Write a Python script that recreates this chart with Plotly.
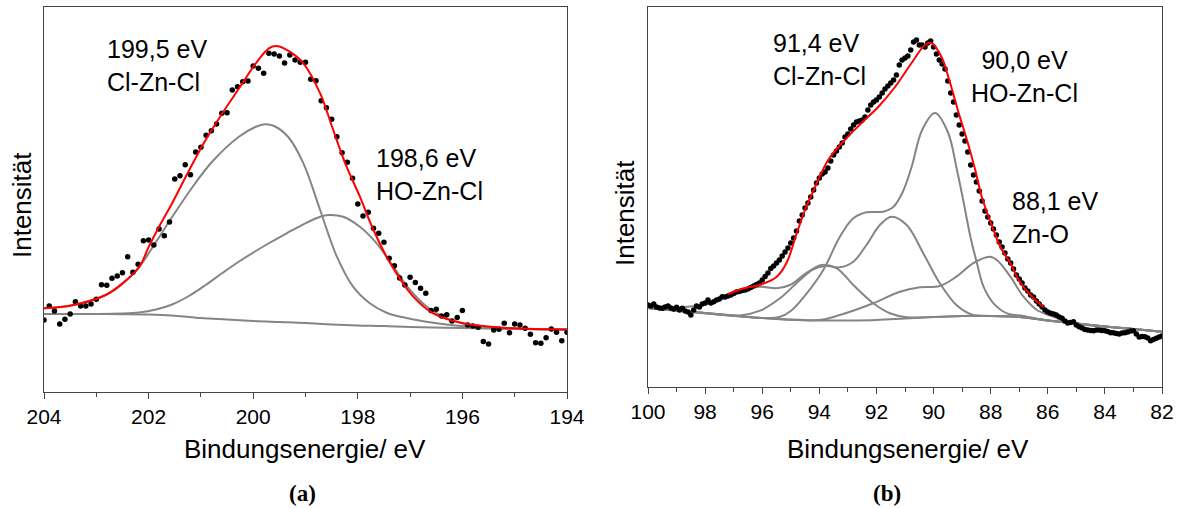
import plotly.graph_objects as go

# ---------------- Panel (a): Cl 2p ----------------
a_dot_E = [round(204.0 - 0.1 * i, 1) for i in range(101)]
a_dot_I = [72, 86, 81, 68, 72.7, 78, 90.3, 86, 86, 88,
           92.7, 107.3, 106.7, 113.7, 116, 119.3, 135.3, 119.7, 127.7, 151.3,
           152, 147, 163, 156.3, 170, 213, 216.3, 227.3, 217.3, 240,
           244.7, 256.7, 261.3, 268, 278.7, 279.3, 302, 305.3, 310.3, 311,
           326, 323.7, 318.7, 338.7, 338, 336, 329, 337, 332, 329.7,
           329.7, 312.7, 311.3, 291.3, 284.3, 272.7, 255.3, 239.3, 229.7, 213.7,
           188, 176, 179.7, 163.7, 158.7, 149.7, 133.7, 126.3, 114, 107,
           114.7, 109.5, 103.7, 98.8, 81.5, 82.8, 76, 77.3, 71, 74.5,
           81.5, 67, 66, 64.7, 50.5, 48, 62, 62.7, 68.7, 59.3,
           68, 67, 63.7, 57.7, 49.3, 48.7, 54.3, 63, 59.7, 51.3,
           59.7]

a_env_E = [204.0, 203.46, 202.82, 202.5, 202.18, 201.99, 201.8, 201.55, 201.29, 200.91,
           200.59, 200.27, 199.95, 199.7, 199.55, 199.3, 199.04, 198.72, 198.47, 198.24,
           197.96, 197.7, 197.38, 196.94, 196.56, 195.98, 195.24, 194.0]
a_env_I = [83.7, 86.7, 97, 108.7, 125, 146, 165.3, 188.7, 215.3, 252,
           278.7, 303.7, 328.7, 343.7, 346, 340.3, 328.7, 298.7, 262, 228.7,
           195.3, 162, 128.7, 95.3, 78.7, 68.7, 64.3, 62.5]

a_c1_E = [204.0, 203.46, 202.82, 202.5, 202.18, 201.86, 201.55, 201.16, 200.79, 200.28,
          199.96, 199.77, 199.6, 199.33, 199.04, 198.72, 198.4, 198.09, 197.77, 197.45,
          197.13, 196.49, 195.85, 195.0, 194.0]
a_c1_I = [83.7, 86.7, 97, 108, 125, 150, 175, 205, 230, 255,
          265, 267.7, 266, 255, 228.7, 182, 135.3, 105.3, 88.7, 79.3,
          74.7, 68.7, 65.3, 63.5, 62.5]

a_c2_E = [204.0, 202.5, 202.18, 201.86, 201.55, 201.23, 200.91, 200.59, 200.27, 199.95,
          199.66, 199.36, 199.04, 198.72, 198.56, 198.28, 197.96, 197.64, 197.32, 197.0,
          196.68, 196.3, 195.85, 195.0, 194.0]
a_c2_I = [78, 78.5, 79.5, 82.5, 87.5, 96, 107, 119, 130.5, 141,
          150, 158.7, 167.7, 175.3, 177, 175.3, 165.3, 148.7, 125.3, 102,
          85.3, 73.7, 67, 63.5, 62.5]

a_bg_E = [204.0, 203.0, 202.0, 201.5, 201.0, 200.5, 200.0, 199.5, 199.0, 198.5,
          198.0, 197.5, 197.0, 196.0, 195.0, 194.0]
a_bg_I = [78, 78, 77.5, 76.3, 74, 72.5, 71, 70, 69, 67.5,
          66.5, 66, 65, 64, 63, 62.5]

# ---------------- Panel (b): Zn 3p ----------------
b_dot_E = [round(100.0 - 0.1 * i, 1) for i in range(181)]
b_dot_I = [82, 81, 83, 80, 79, 78.7, 80, 81, 79, 78,            # 100.0-99.1
           79.7, 77, 78.7, 76, 75, 72, 77, 81, 80, 83,          # 99.0-98.1
           84, 87, 84, 85.3, 87, 88, 90.3, 90, 91, 92,          # 98.0-97.1
           93.5, 95, 95.5, 96.5, 97, 98, 99.5, 101, 102.5, 104,  # 97.0-96.1
           107, 110.5, 114, 118.5, 121, 124, 127, 131, 135, 139,  # 96.0-95.1
           144, 149, 156, 166, 172, 179, 184, 190, 197, 204,    # 95.0-94.1
           209, 213, 215, 219, 226, 232, 236, 240, 244, 250,    # 94.0-93.1
           253, 258, 262, 265, 266, 267, 270, 277, 282, 285,    # 93.0-92.1
           287, 290, 294, 298, 301, 304, 307, 312, 322, 327,    # 92.0-91.1
           329, 331, 337, 345, 347, 342, 342, 340, 344, 346,    # 91.0-90.1
           340, 333, 327, 323, 318, 306, 294, 285, 272, 262,    # 90.0-89.1
           253, 246, 235, 222, 212, 205, 196, 186, 176, 170,    # 89.0-88.1
           164, 158, 152, 145, 140, 134, 128, 124, 118, 112,    # 88.0-87.1
           108, 104, 99, 96, 92, 90, 86, 83, 80, 77,            # 87.0-86.1
           75, 73.7, 73, 72, 70, 68.7, 66, 64, 64.5, 65.3,      # 86.0-85.1
           62, 60.3, 59, 57.5, 57, 56.5, 56.3, 57, 57, 56.5,    # 85.0-84.1
           56.3, 55.5, 54.3, 54.3, 53.5, 53, 54, 54.3, 55, 56,  # 84.0-83.1
           56.3, 53, 50, 50.5, 50.3, 49, 46.3, 47.5, 48.7, 50,  # 83.0-82.1
           51]                                                   # 82.0

b_env_E = [97.2, 96.6, 96.1, 95.5, 95.15, 94.8, 94.5, 94.15, 93.69, 93.11,
           92.52, 91.94, 91.35, 90.77, 90.3, 90.07, 89.72, 89.43, 89.12, 88.83,
           88.54, 88.31, 87.9, 87.66, 87.31, 87.02, 86.55, 86.14]
b_env_I = [93, 99, 102, 110, 124, 153, 177, 200, 227, 247,
           264, 280, 300, 324, 342, 344, 330, 305, 274, 247,
           217, 190, 157, 140, 124, 107, 90, 80]

b_c1_E = [100.0, 99.0, 98.5, 98.0, 97.5, 97.14, 96.67, 96.09, 95.5, 95.03,
          94.44, 93.92, 93.39, 92.81, 92.11, 91.53, 90.94, 90.0, 89.0, 88.0,
          87.0, 86.0, 85.0, 84.0, 83.0, 82.0]
b_c1_I = [79, 79.5, 80.5, 82.5, 87, 92, 97.7, 100.3, 98.7, 102,
          114.3, 122, 118.7, 102, 83.7, 73.7, 69.7, 70, 71, 71,
          70, 66.5, 63.5, 60.5, 58, 55.3]

b_c2_E = [100.0, 98.0, 97.5, 96.78, 96.08, 95.38, 94.68, 94.21, 93.75, 93.28,
          92.81, 92.35, 91.88, 91.47, 90.94, 90.36, 89.78, 89.2, 88.62, 88.0,
          87.0, 86.0, 85.0, 84.0, 83.0, 82.0]
b_c2_I = [79, 74, 72.5, 71.5, 76.3, 88.7, 107, 117.7, 121, 119.7,
          125.3, 142, 162, 170.3, 162, 133.7, 103.7, 82, 72, 71,
          70, 66.5, 63.5, 60.5, 58, 55.3]

b_c3_E = [100.0, 97.0, 96.0, 95.4, 95.0, 94.44, 93.86, 93.28, 92.81, 92.35,
          91.77, 91.41, 91.08, 90.77, 90.4, 89.95, 89.5, 89.18, 88.94, 88.71,
          88.48, 88.25, 87.9, 87.43, 86.85, 86.0, 85.0, 84.0, 83.0, 82.0]
b_c3_I = [79, 71.5, 69, 70, 76, 93.7, 117, 150.3, 168.7, 174.7,
          175.3, 180, 195, 220, 257, 274, 255, 217, 183.7, 150.3,
          123.7, 100.3, 83.7, 73.7, 71, 66.5, 63.5, 60.5, 58, 55.3]

b_c4_E = [100.0, 96.0, 94.0, 93.28, 92.11, 91.18, 90.48, 89.78, 89.2, 88.62,
          88.03, 87.78, 87.31, 86.85, 86.38, 85.8, 85.21, 84.5, 84.0, 83.0, 82.0]
b_c4_I = [79, 69, 67, 72, 83.7, 95.3, 99.7, 101, 110.3, 123.7,
          130.3, 127, 110.3, 90.3, 77, 70.3, 65, 61.5, 60.5, 58, 55.3]

b_bg_E = [100, 99, 98, 97, 96, 95, 94, 93, 92, 91, 90, 89, 88, 87, 86, 85, 84, 83, 82]
b_bg_I = [79, 76.5, 74, 71.5, 69, 67.5, 66.5, 66.5, 67, 68.5, 70, 71, 71, 70, 66.5, 63.5, 60.5, 58, 55.3]

a_ticks = [204, 202, 200, 198, 196, 194]
b_ticks = [100, 98, 96, 94, 92, 90, 88, 86, 84, 82]

GRAY = "#858585"
RED = "#ff0000"
FONT = "Arial, Liberation Sans, sans-serif"
SERIF = "Liberation Serif, DejaVu Serif, serif"

fig = go.Figure()


def add_line(E, I, xa, ya, color, width=2.0):
    fig.add_trace(go.Scatter(x=E, y=I, mode="lines", xaxis=xa, yaxis=ya,
                             line=dict(color=color, width=width, shape="spline", smoothing=1.0),
                             hoverinfo="skip", showlegend=False))


def add_dots(E, I, xa, ya, size):
    fig.add_trace(go.Scatter(x=E, y=I, mode="markers", xaxis=xa, yaxis=ya,
                             marker=dict(color="black", size=size, line=dict(width=0)),
                             showlegend=False))


# panel a
for E, I in [(a_bg_E, a_bg_I), (a_c2_E, a_c2_I), (a_c1_E, a_c1_I)]:
    add_line(E, I, "x", "y", GRAY)
add_dots(a_dot_E, a_dot_I, "x", "y", 5.5)
add_line(a_env_E, a_env_I, "x", "y", RED)

# panel b
for E, I in [(b_bg_E, b_bg_I), (b_c1_E, b_c1_I), (b_c2_E, b_c2_I), (b_c3_E, b_c3_I), (b_c4_E, b_c4_I)]:
    add_line(E, I, "x2", "y2", GRAY)
add_dots(b_dot_E, b_dot_I, "x2", "y2", 5.5)
add_line(b_env_E, b_env_I, "x2", "y2", RED)

W, H = 1181, 508


def xd(p0, p1):
    return [p0 / W, p1 / W]


def yd(top, bottom):
    return [(H - bottom) / H, (H - top) / H]


axis_common = dict(showline=True, mirror=True, linecolor="#444", linewidth=1.4,
                   showgrid=False, zeroline=False, automargin=False)

fig.update_layout(
    width=W, height=H,
    margin=dict(l=0, r=0, t=0, b=0),
    paper_bgcolor="white", plot_bgcolor="white",
    font=dict(family=FONT, color="black", size=21),
    showlegend=False,
    xaxis=dict(domain=xd(44, 567), range=[204, 194], anchor="y",
               tickvals=a_ticks, ticktext=[str(t) for t in a_ticks],
               ticks="outside", ticklen=6, tickwidth=1.3, tickcolor="#444",
               tickfont=dict(size=21, family=FONT),
               minor=dict(dtick=1, tick0=0, ticks="outside", ticklen=4, tickwidth=1.2, tickcolor="#444"),
               **axis_common),
    yaxis=dict(domain=yd(7, 392), range=[0, 385], anchor="x",
               showticklabels=False, ticks="", **axis_common),
    xaxis2=dict(domain=xd(648, 1162), range=[100, 82], anchor="y2",
                tickvals=b_ticks, ticktext=[str(t) for t in b_ticks],
                ticks="outside", ticklen=6, tickwidth=1.3, tickcolor="#444",
                tickfont=dict(size=21, family=FONT),
                minor=dict(dtick=1, tick0=0, ticks="outside", ticklen=4, tickwidth=1.2, tickcolor="#444"),
                **axis_common),
    yaxis2=dict(domain=yd(7, 387), range=[0, 380], anchor="x2",
                showticklabels=False, ticks="", **axis_common),
)

ann = []


def paper_ann(text, px, py, size=26, angle=0, font=FONT, xanchor="center"):
    ann.append(dict(text=text, x=px / W, y=(H - py) / H, xref="paper", yref="paper",
                    xanchor=xanchor, yanchor="middle", showarrow=False, textangle=angle,
                    font=dict(size=size, family=font, color="black")))


def data_ann(text, x, y, xr, yr, xanchor="left", align="left"):
    ann.append(dict(text=text, x=x, y=y, xref=xr, yref=yr, xanchor=xanchor, yanchor="middle",
                    align=align, showarrow=False, font=dict(size=25, family=FONT, color="black")))


paper_ann("Intensität", 22.5, 205.5, angle=-90)
paper_ann("Intensität", 625, 213, angle=-90)
paper_ann("Bindungsenergie/ eV", 305, 449)
paper_ann("Bindungsenergie/ eV", 908, 449)
paper_ann("<b>(a)</b>", 302, 493, size=23, font=SERIF)
paper_ann("<b>(b)</b>", 887, 493, size=23, font=SERIF)

data_ann("199,5 eV<br>Cl-Zn-Cl", 202.83, 326.5, "x", "y")
data_ann("198,6 eV<br>HO-Zn-Cl", 197.69, 218, "x", "y")
data_ann("91,4 eV<br>Cl-Zn-Cl", 95.69, 327.5, "x2", "y2")
data_ann("90,0 eV<br>HO-Zn-Cl", 86.80, 310.5, "x2", "y2", xanchor="center", align="center")
data_ann("88,1 eV<br>Zn-O", 87.32, 170, "x2", "y2")

fig.update_layout(annotations=ann)

fig.write_html("out.html")
